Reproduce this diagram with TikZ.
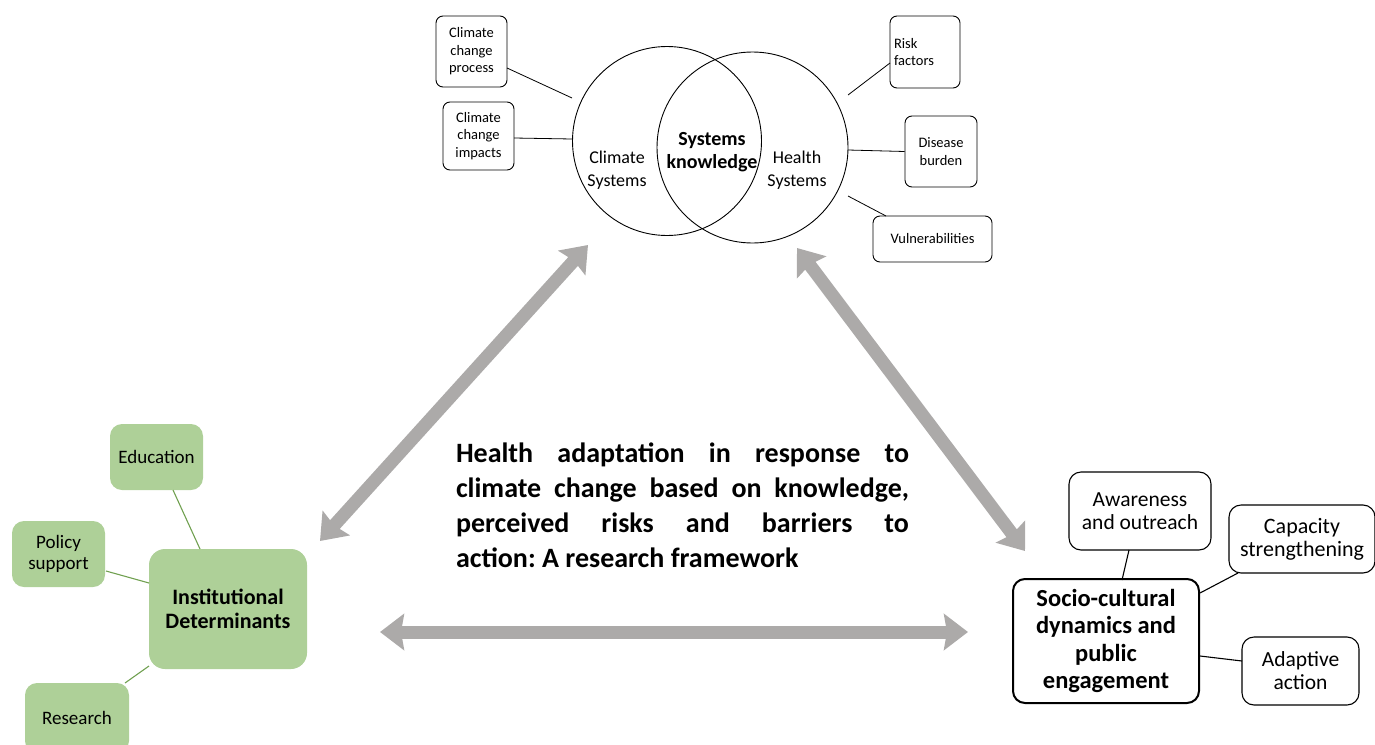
\documentclass[tikz,border=0pt]{standalone}
\usepackage{fontspec}
\setmainfont{Carlito}
\usetikzlibrary{arrows.meta}
\definecolor{grn}{RGB}{174,208,152}
\definecolor{gline}{RGB}{112,160,80}
\definecolor{garr}{RGB}{172,170,169}
\frenchspacing
\tikzset{
  sbox/.style={draw=black, line width=0.9pt, rounded corners=7pt, align=center, inner sep=0pt, font=\fontsize{14.5}{17.5}\selectfont},
  gbox/.style={fill=grn, rounded corners=12pt, align=center, inner sep=0pt, font=\fontsize{19}{21}\selectfont},
  rbox/.style={draw=black, line width=1.1pt, rounded corners=12pt, align=center, inner sep=0pt, font=\fontsize{21.5}{23}\selectfont},
  conn/.style={draw=black, line width=0.8pt},
  gconn/.style={draw=gline, line width=1.1pt},
  garrow/.style={draw=garr, line width=13pt, {Stealth[width=36pt,length=24pt,inset=3pt]}-{Stealth[width=36pt,length=24pt,inset=3pt]}},
}
\begin{document}
\begin{tikzpicture}[x=1pt,y=-1pt]
\useasboundingbox (0,0) rectangle (1375,744);
\clip (0,0) rectangle (1375,744);
% Venn circles
\node[draw, circle, line width=0.9pt, minimum size=189pt, inner sep=0pt] (lc) at (667,141) {};
\node[draw, circle, line width=0.9pt, minimum size=191pt, inner sep=0pt] (rc) at (752.5,147.5) {};
\node[align=center, font=\fontsize{18}{23}\selectfont] (cs) at (617,170) {Climate\\Systems};
\node[align=center, font=\bfseries\fontsize{20}{23}\selectfont] (sk) at (712,152) {Systems\\knowledge};
\node[align=center, font=\fontsize{18}{23}\selectfont] (hs) at (797,170) {Health\\Systems};
% small boxes
\node[sbox, minimum width=71pt, minimum height=71pt] (ccp) at (471.5,51.5) {Climate\\change\\process};
\node[sbox, minimum width=71pt, minimum height=68pt] (cci) at (478.5,136) {Climate\\change\\impacts};
\node[sbox, minimum width=70pt, minimum height=72pt, text width=62pt, align=left, inner xsep=4pt] (rf) at (925,52) {Risk\\factors};
\node[sbox, minimum width=72pt, minimum height=71pt] (db) at (941,151.5) {Disease\\burden};
\node[sbox, minimum width=119pt, minimum height=46pt] (vu) at (932.5,239) {Vulnerabilities};
\coordinate (q1) at (507,68);
\coordinate (p1) at (572,98);
\coordinate (q2) at (514,138);
\coordinate (p2) at (572,139);
\coordinate (q3) at (890,63);
\coordinate (p3) at (848,95);
\coordinate (p4) at (848,150);
\coordinate (p5) at (848,196);
\coordinate (p6) at (886,216);
\draw[conn] (q1) -- (p1);
\draw[conn] (q2) -- (p2);
\draw[conn] (q3) -- (p3);
\draw[conn] (db.west) -- (p4);
\draw[conn] (p6) -- (p5);
% green boxes
\node[gbox, minimum width=93pt, minimum height=66pt] (edu) at (156.5,457) {Education};
\node[gbox, minimum width=93pt, minimum height=66pt] (pol) at (58.5,554) {Policy\\support};
\node[gbox, minimum width=158pt, minimum height=120pt, rounded corners=16pt, font=\bfseries\fontsize{22}{24}\selectfont] (inst) at (228,609) {Institutional\\Determinants};
\node[gbox, minimum width=104pt, minimum height=70pt] (res) at (77,718) {Research};
\coordinate (g1) at (173,490);
\coordinate (g2) at (200,549);
\coordinate (g3) at (106,571);
\coordinate (g4) at (149,583);
\coordinate (g5) at (125,683);
\coordinate (g6) at (149,666);
\draw[gconn] (g1) -- (g2);
\draw[gconn] (g3) -- (g4);
\draw[gconn] (g5) -- (g6);
% right boxes
\node[rbox, minimum width=142pt, minimum height=78pt] (aw) at (1140,511) {Awareness\\and outreach};
\node[rbox, minimum width=146pt, minimum height=68pt, font=\fontsize{22}{23}\selectfont] (cap) at (1302,539) {Capacity\\strengthening};
\node[rbox, line width=2pt, minimum width=186pt, minimum height=124pt, font=\bfseries\fontsize{24.5}{27.5}\selectfont] (soc) at (1106,641) {Socio-cultural\\dynamics and\\public\\engagement};
\node[rbox, minimum width=117pt, minimum height=68pt] (ad) at (1300.5,671) {Adaptive\\action};
\coordinate (c1) at (1129,550);
\coordinate (c2) at (1122,580);
\coordinate (c3) at (1238,573);
\coordinate (c4) at (1200,593);
\coordinate (c5) at (1242,661);
\coordinate (c6) at (1200,656);
\draw[conn, line width=1.1pt] (c1) -- (c2);
\draw[conn, line width=1.1pt] (c3) -- (c4);
\draw[conn, line width=1.1pt] (c5) -- (c6);
% grey arrows
\coordinate (a1) at (320,541);
\coordinate (a2) at (588,245);
\coordinate (a3) at (797,248);
\coordinate (a4) at (1025,551);
\coordinate (a5) at (380,632);
\coordinate (a6) at (968,632);
\draw[garrow] (a1) -- (a2);
\draw[garrow] (a3) -- (a4);
\draw[garrow] (a5) -- (a6);
% title
\node[text width=453pt, align=justify, inner sep=0pt, font=\bfseries\fontsize{28}{35}\selectfont] (title) at (682.5,505) {Health adaptation in response to\linebreak climate change based on knowledge,\linebreak perceived risks and barriers to\linebreak action: A research framework};
\end{tikzpicture}
\end{document}
